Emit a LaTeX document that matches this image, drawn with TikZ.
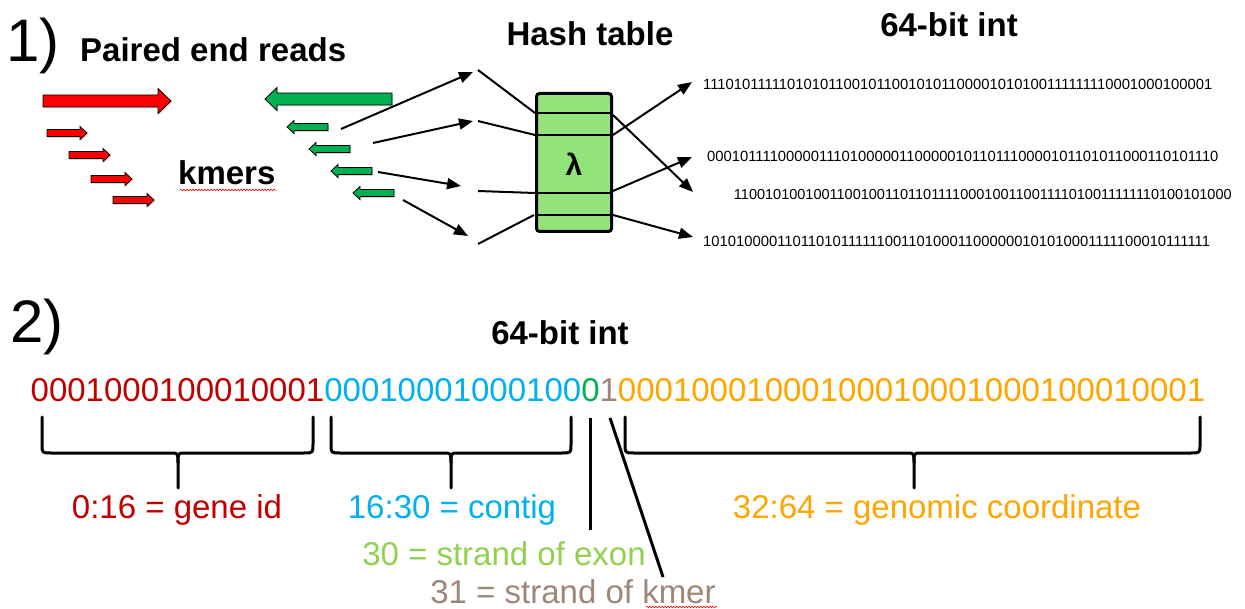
\documentclass[tikz,border=0pt]{standalone}
\usepackage{fontspec}
\setmainfont{Liberation Sans}
\usetikzlibrary{arrows.meta,shadows,decorations.pathmorphing}
\definecolor{arrred}{RGB}{255,0,0}
\definecolor{arrgreen}{RGB}{0,176,80}
\definecolor{htgreen}{RGB}{146,228,122}
\definecolor{bitred}{RGB}{192,0,0}
\definecolor{bitblue}{RGB}{0,176,240}
\definecolor{bitgreen}{RGB}{0,176,80}
\definecolor{bitbrown}{RGB}{158,134,120}
\definecolor{bitorange}{RGB}{255,165,0}
\definecolor{exongreen}{RGB}{146,208,80}
\newcommand\blkarrow[8]{%
  \draw[#1] (#2,{#3-#5}) -- ({#4-(#8)*#7},{#3-#5}) -- ({#4-(#8)*#7},{#3-#6}) -- (#4,#3)
    -- ({#4-(#8)*#7},{#3+#6}) -- ({#4-(#8)*#7},{#3+#5}) -- (#2,{#3+#5}) -- cycle;}
\newcommand\mybrace[3]{%
  \draw[brace] (#1,417) -- (#1,444) .. controls (#1,453) .. ({#1+9},453) -- ({#2-7},453)
    .. controls (#2,453) .. (#2,463) -- (#2,488);
  \draw[brace] (#3,417) -- (#3,444) .. controls (#3,453) .. ({#3-9},453) -- ({#2+7},453)
    .. controls (#2,453) .. (#2,463);}
\begin{document}
\begin{tikzpicture}[x=1pt,y=-1pt,
  big/.style={font=\fontsize{60}{66}\selectfont, inner sep=0pt},
  hdr/.style={font=\bfseries\fontsize{33}{38}\selectfont, inner sep=0pt},
  lbl/.style={font=\fontsize{33}{38}\selectfont, inner sep=0pt},
  tinybits/.style={font=\fontsize{14.8}{16}\selectfont, inner sep=0pt},
  blk/.style={draw=black, line width=0.8pt, line join=miter,
    drop shadow={shadow xshift=1.2pt, shadow yshift=-1.5pt, opacity=0.3}},
  conn/.style={line width=2pt},
  arr/.style={line width=2pt, -{Triangle[length=14pt,width=11pt]}},
  rowline/.style={line width=2.2pt},
  brace/.style={line width=3pt, line cap=round, line join=round},
  stem/.style={line width=3pt},
  squig/.style={draw=red, line width=0.6pt, decorate,
    decoration={snake, amplitude=0.8pt, segment length=3pt}}
]
\useasboundingbox (0,0) rectangle (1245,609);

% ---------- part 1 ----------
\node[big, anchor=base west] (one) at (6,62) {1)};
\node[hdr, anchor=base west] (paired) at (80,62) {Paired end reads};
\node[hdr, anchor=base west] (kmers) at (178,185) {kmers};
\draw[squig] (180,190) -- (276,190);
\node[hdr, anchor=base] (hash) at (590,46) {Hash table};
\node[hdr, anchor=base] (int1) at (949,37) {64-bit int};

% block arrows
\blkarrow{blk, fill=arrred}{43}{101}{171}{6}{12.5}{13}{1}
\blkarrow{blk, fill=arrred}{47}{133}{87}{3.5}{6.5}{7}{1}
\blkarrow{blk, fill=arrred}{69}{155}{110}{3.5}{6.5}{7}{1}
\blkarrow{blk, fill=arrred}{91}{179}{132}{3.5}{6.5}{7}{1}
\blkarrow{blk, fill=arrred}{113}{200}{154}{3.5}{6.5}{7}{1}
\blkarrow{blk, fill=arrgreen}{392}{99}{265}{6}{11.5}{12}{-1}
\blkarrow{blk, fill=arrgreen}{328}{127}{287}{3.5}{6.5}{7}{-1}
\blkarrow{blk, fill=arrgreen}{350}{149}{309}{3.5}{6.5}{7}{-1}
\blkarrow{blk, fill=arrgreen}{372}{171}{331}{3.5}{6.5}{7}{-1}
\blkarrow{blk, fill=arrgreen}{394}{193}{353}{3.5}{6.5}{7}{-1}

% hash table
\node[draw, line width=3pt, rounded corners=3pt, fill=htgreen,
      minimum width=75pt, minimum height=138pt, inner sep=0pt] (ht) at (574,162.5) {};
\draw[rowline] (536.5,113) -- (611.5,113);
\draw[rowline] (536.5,135) -- (611.5,135);
\draw[rowline] (536.5,193) -- (611.5,193);
\draw[rowline] (536.5,215) -- (611.5,215);
\node[font=\bfseries\fontsize{30}{30}\selectfont, inner sep=0pt] (lam) at (574,164) {λ};

% connector end points
\coordinate (k1) at (341,129); \coordinate (m1) at (473,72);
\coordinate (k2) at (373,143); \coordinate (m2) at (473,121);
\coordinate (k3) at (378,172); \coordinate (m3) at (461,186);
\coordinate (k4) at (403,200); \coordinate (m4) at (468,236);
\coordinate (n1) at (478,70);  \coordinate (t1) at (535,113);
\coordinate (n2) at (478,121); \coordinate (t2) at (535,135);
\coordinate (n3) at (478,191); \coordinate (t3) at (535,193);
\coordinate (n4) at (478,244); \coordinate (t4) at (534,215);
\coordinate (s1) at (613,135); \coordinate (b1) at (692,82);
\coordinate (s2) at (613,115); \coordinate (b2) at (693,192);
\coordinate (s3) at (613,191); \coordinate (b3) at (692,157);
\coordinate (s4) at (613,215); \coordinate (b4) at (693,237);

\draw[arr] (k1) -- (m1);
\draw[arr] (k2) -- (m2);
\draw[arr] (k3) -- (m3);
\draw[arr] (k4) -- (m4);
\draw[conn] (n1) -- (t1);
\draw[conn] (n2) -- (t2);
\draw[conn] (n3) -- (t3);
\draw[conn] (n4) -- (t4);
\draw[arr] (s1) -- (b1);
\draw[arr] (s2) -- (b2);
\draw[arr] (s3) -- (b3);
\draw[arr] (s4) -- (b4);

% 64-bit ints (top)
\node[tinybits, anchor=base west] (r1) at (703,90) {1110101111101010110010110010101100001010100111111110001000100001};
\node[tinybits, anchor=base west] (r2) at (707,162) {0001011110000011101000001100000101101110000101101011000110101110};
\node[tinybits, anchor=base east, font=\fontsize{14.5}{16}\selectfont] (r3) at (1232,200) {1100101001001100100110110111100010011001111010011111110100101000};
\node[tinybits, anchor=base west] (r4) at (703,247) {1010100001101101011111100110100011000000101010001111100010111111};

% ---------- part 2 ----------
\node[big, anchor=base west] (two) at (10,343) {2)};
\node[hdr, anchor=base] (int2) at (560,345) {64-bit int};
\node[lbl, anchor=base west] (bits) at (30.5,402) {\textcolor{bitred}{0001000100010001}\textcolor{bitblue}{00010001000100}\textcolor{bitgreen}{0}\textcolor{bitbrown}{1}\textcolor{bitorange}{00010001000100010001000100010001}};

\mybrace{42}{178}{313}
\mybrace{331}{451}{571}
\mybrace{625}{914}{1200}

\coordinate (gtop) at (590,418); \coordinate (gbot) at (590,530);
\coordinate (btop) at (610,418); \coordinate (bbot) at (663,577);
\draw[stem] (gtop) -- (gbot);
\draw[stem] (btop) -- (bbot);

\node[lbl, text=bitred, anchor=base] (lab1) at (177,518) {0:16 = gene id};
\node[lbl, text=bitblue, anchor=base] (lab2) at (452,518) {16:30 = contig};
\node[lbl, text=exongreen, anchor=base] (lab3) at (504,565) {30 = strand of exon};
\node[lbl, text=bitbrown, anchor=base] (lab4) at (573,603) {31 = strand of kmer};
\node[lbl, text=bitorange, anchor=base] (lab5) at (937,518) {32:64 = genomic coordinate};
\draw[squig] (646,607) -- (717,607);
\end{tikzpicture}
\end{document}
